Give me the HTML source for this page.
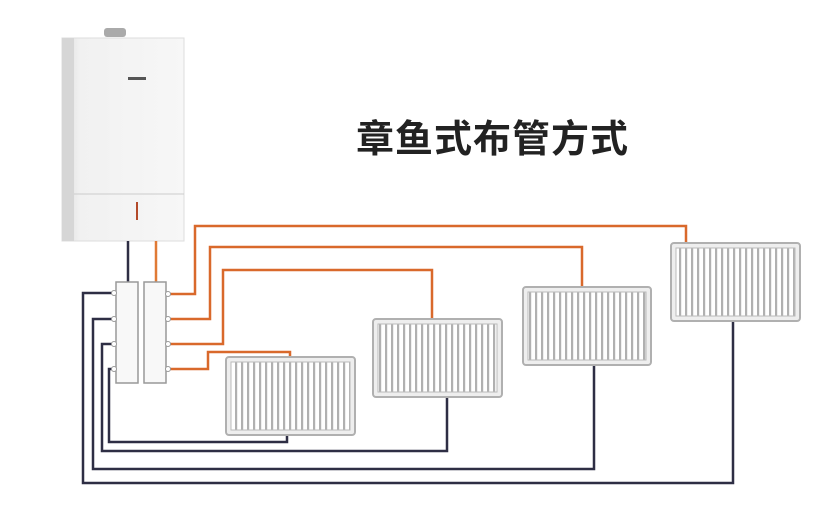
<!DOCTYPE html>
<html><head><meta charset="utf-8"><style>
html,body{margin:0;padding:0;background:#fff;}
body{width:818px;height:520px;overflow:hidden;position:relative;}
.t{position:absolute;left:356px;top:108px;font-family:"Liberation Sans","Noto Sans CJK SC",sans-serif;font-size:38px;font-weight:bold;color:#222;letter-spacing:1px;}
</style></head><body>
<svg width="818" height="520" style="position:absolute;left:0;top:0">
<defs>
<pattern id="fins" x="0" y="0" width="6" height="10" patternUnits="userSpaceOnUse">
<rect x="0" y="0" width="6" height="10" fill="#fff"/>
<rect x="1" y="0" width="2.2" height="10" fill="#b0b0b0"/>
</pattern>
<linearGradient id="bg" x1="0" x2="1"><stop offset="0" stop-color="#dcdcdc"/><stop offset="0.15" stop-color="#f1f1f1"/><stop offset="1" stop-color="#f7f7f7"/></linearGradient>
</defs>
<rect x="104" y="28" width="22" height="9" rx="3" fill="#aaa"/>
<rect x="62" y="38" width="122" height="203" fill="url(#bg)" stroke="#ddd"/>
<rect x="62" y="38" width="12" height="203" fill="#d6d6d6"/>
<line x1="74" y1="194" x2="184" y2="194" stroke="#ccc"/>
<rect x="128" y="77" width="18" height="3" fill="#555"/>
<rect x="136" y="202" width="2" height="18" fill="#b34a2a"/>
<line x1="128" y1="241" x2="128" y2="284" stroke="#2e2e44" stroke-width="2.5"/>
<line x1="156" y1="241" x2="156" y2="284" stroke="#e07a35" stroke-width="2.5"/>
<g fill="none" stroke-width="2.5">
<g stroke="#d9692b">
<polyline points="168,294 195,294 195,226 686,226 686,244"/>
<polyline points="168,319 210,319 210,247 582,247 582,288"/>
<polyline points="168,344 223,344 223,270 432,270 432,319"/>
<polyline points="168,369 208,369 208,352 290,352 290,358"/>
</g>
<g stroke="#2e2e44">
<polyline points="115,293 83,293 83,483 733,483 733,321"/>
<polyline points="115,319 93,319 93,469 594,469 594,365"/>
<polyline points="115,344 102,344 102,451 447,451 447,397"/>
<polyline points="115,369 109,369 109,442 287,442 287,436"/>
</g>
</g>
<rect x="116" y="282" width="22" height="101" fill="#f8f8f8" stroke="#999" stroke-width="1.5"/>
<rect x="144" y="282" width="22" height="101" fill="#f8f8f8" stroke="#999" stroke-width="1.5"/>
<g fill="#fff" stroke="#999">
<circle cx="114" cy="293" r="2.5"/><circle cx="114" cy="319" r="2.5"/><circle cx="114" cy="344" r="2.5"/><circle cx="114" cy="369" r="2.5"/>
<circle cx="168" cy="294" r="2.5"/><circle cx="168" cy="319" r="2.5"/><circle cx="168" cy="344" r="2.5"/><circle cx="168" cy="369" r="2.5"/>
</g>
<g stroke="#b0b0b0" stroke-width="2">
<rect x="226" y="357" width="129" height="78" rx="3" fill="#eee"/>
<rect x="231" y="362" width="119" height="68" fill="url(#fins)" stroke="#bbb" stroke-width="1"/>
<rect x="373" y="319" width="129" height="78" rx="3" fill="#eee"/>
<rect x="378" y="324" width="119" height="68" fill="url(#fins)" stroke="#bbb" stroke-width="1"/>
<rect x="523" y="287" width="128" height="78" rx="3" fill="#eee"/>
<rect x="528" y="292" width="118" height="68" fill="url(#fins)" stroke="#bbb" stroke-width="1"/>
<rect x="671" y="243" width="129" height="78" rx="3" fill="#eee"/>
<rect x="676" y="248" width="119" height="68" fill="url(#fins)" stroke="#bbb" stroke-width="1"/>
</g>
</svg>
<div class="t">章鱼式布管方式</div>
</body></html>
